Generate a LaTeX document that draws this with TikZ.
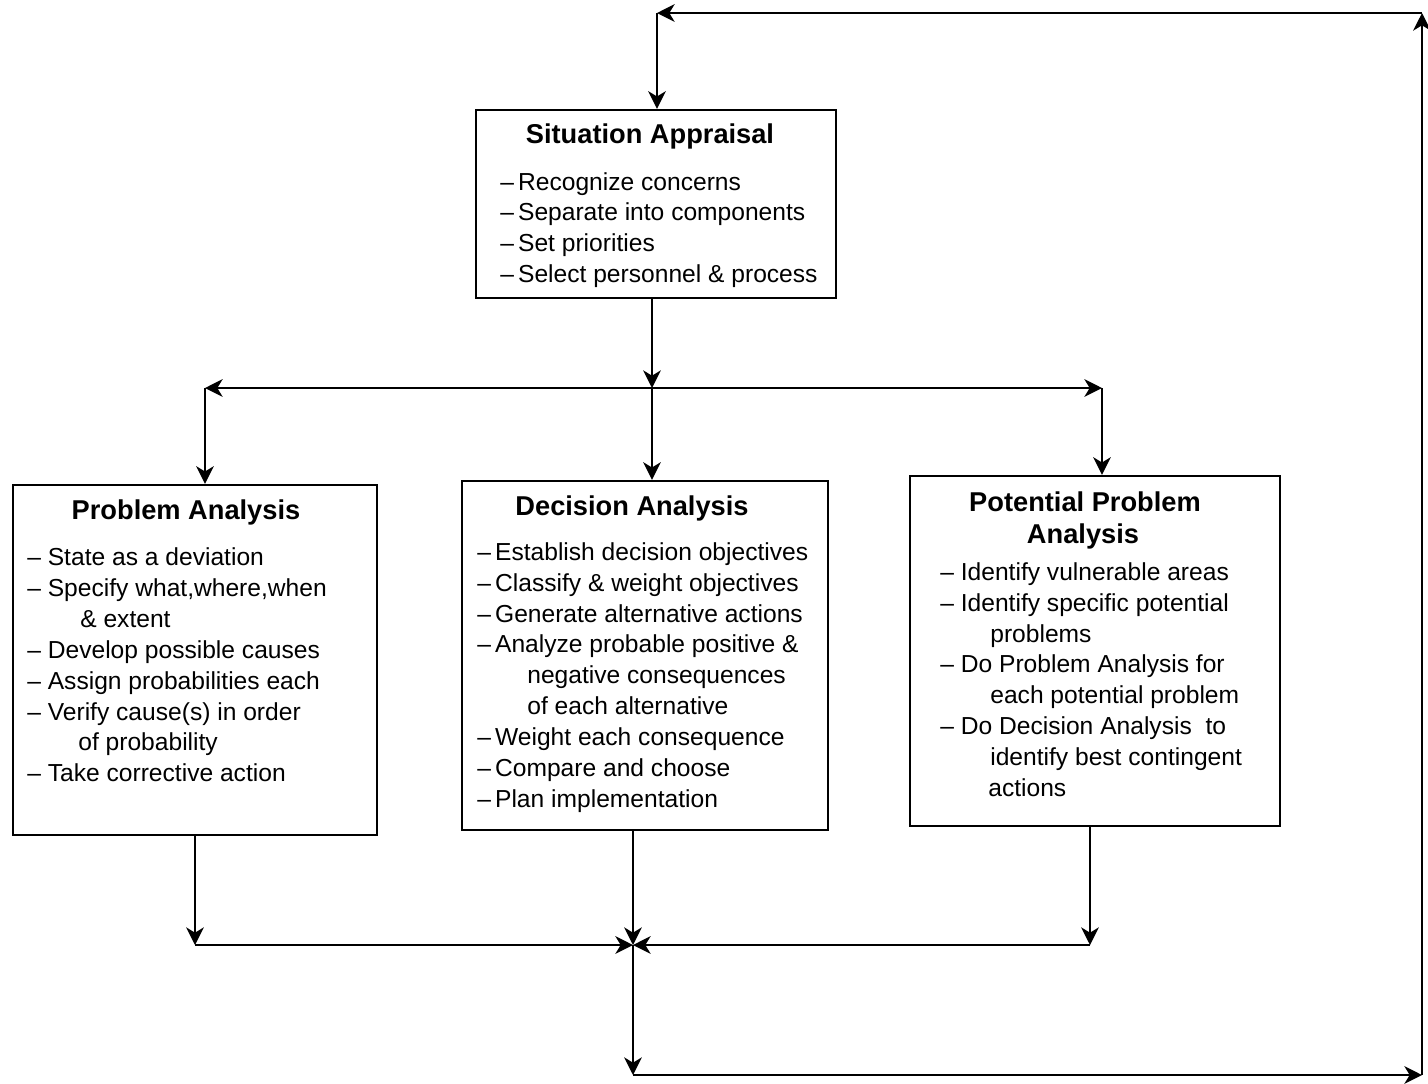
\documentclass[tikz,border=0pt]{standalone}
\usepackage{fontspec}
\setmainfont{Liberation Sans}
\usetikzlibrary{arrows.meta}
\begin{document}
\begin{tikzpicture}[x=0.02cm,y=-0.02cm,
  box/.style={draw, line width=1.4pt, inner sep=0pt},
  ttl/.style={anchor=base, inner sep=0pt, font=\fontsize{15.5}{18}\selectfont\bfseries},
  itm/.style={anchor=base west, inner sep=0pt, font=\fontsize{14}{17}\selectfont},
  con/.style={line width=1.5pt},
  arr/.style={con, -{Stealth[length=10pt,width=10pt,inset=3pt]}}]
\useasboundingbox (0,0) rectangle (1428,1083);

% boxes
\node[box, minimum width=7.2cm, minimum height=3.76cm] (SA) at (656,204) {};
\node[box, minimum width=7.28cm, minimum height=7.0cm] (PA) at (195,660) {};
\node[box, minimum width=7.32cm, minimum height=6.98cm] (DA) at (645,655.5) {};
\node[box, minimum width=7.4cm, minimum height=7.0cm] (PPA) at (1095,651) {};

% Situation Appraisal
\node[ttl] (sat) at (650,143) {Situation Appraisal};
\node[itm] (sa1) at (500,190) {–\,Recognize concerns};
\node[itm] (sa2) at (500,220) {–\,Separate into components};
\node[itm] (sa3) at (500,251) {–\,Set priorities};
\node[itm] (sa4) at (500,282) {–\,Select personnel \& process};

% Problem Analysis
\node[ttl] (pat) at (186,519) {Problem Analysis};
\node[itm] (pa1) at (27,565) {– State as a deviation};
\node[itm] (pa2) at (27,596) {– Specify what,where,when};
\node[itm] (pa3) at (80,627) {\& extent};
\node[itm] (pa4) at (27,658) {– Develop possible causes};
\node[itm] (pa5) at (27,689) {– Assign probabilities each};
\node[itm] (pa6) at (27,720) {– Verify cause(s) in order};
\node[itm] (pa7) at (78,750) {of probability};
\node[itm] (pa8) at (27,781) {– Take corrective action};

% Decision Analysis
\node[ttl] (dat) at (632,515) {Decision Analysis};
\node[itm] (da1) at (477,560) {–\,Establish decision objectives};
\node[itm] (da2) at (477,591) {–\,Classify \& weight objectives};
\node[itm] (da3) at (477,622) {–\,Generate alternative actions};
\node[itm] (da4) at (477,652) {–\,Analyze probable positive \&};
\node[itm] (da5) at (527,683) {negative consequences};
\node[itm] (da6) at (527,714) {of each alternative};
\node[itm] (da7) at (477,745) {–\,Weight each consequence};
\node[itm] (da8) at (477,776) {–\,Compare and choose};
\node[itm] (da9) at (477,807) {–\,Plan implementation};

% Potential Problem Analysis
\node[ttl] (ppt1) at (1085,511) {Potential Problem};
\node[ttl] (ppt2) at (1083,543) {Analysis};
\node[itm] (pp1) at (940,580) {– Identify vulnerable areas};
\node[itm] (pp2) at (940,611) {– Identify specific potential};
\node[itm] (pp3) at (990,642) {problems};
\node[itm] (pp4) at (940,672) {– Do Problem Analysis for};
\node[itm] (pp5) at (990,703) {each potential problem};
\node[itm] (pp6) at (940,734) {– Do Decision Analysis\ \ to};
\node[itm] (pp7) at (990,765) {identify best contingent};
\node[itm] (pp8) at (988,796) {actions};

% connector points
\coordinate (tl) at (657,13);
\coordinate (tr) at (1422,13);
\coordinate (br) at (1422,1075);
\coordinate (bm) at (633,1075);
\coordinate (jn) at (633,945);
\coordinate (split) at (652,388);
\coordinate (sl) at (205,388);
\coordinate (sr) at (1102,388);
\coordinate (ml) at (195,945);
\coordinate (mr) at (1090,945);

% connectors
\draw[arr] (br) -- (tr);
\draw[arr] (tr) -- (tl);
\draw[arr] (tl) -- (SA.north -| tl);
\draw[arr] (SA.south -| split) -- (split);
\draw[arr] (split) -- (sl);
\draw[arr] (split) -- (sr);
\draw[arr] (sl) -- (PA.north -| sl);
\draw[arr] (split) -- (DA.north -| split);
\draw[arr] (sr) -- (PPA.north -| sr);
\draw[arr] (PA.south -| ml) -- (ml);
\draw[arr] (ml) -- (jn);
\draw[arr] (PPA.south -| mr) -- (mr);
\draw[arr] (mr) -- (jn);
\draw[arr] (DA.south -| jn) -- (jn);
\draw[arr] (jn) -- (bm);
\draw[arr] (bm) -- (br);
\end{tikzpicture}
\end{document}
